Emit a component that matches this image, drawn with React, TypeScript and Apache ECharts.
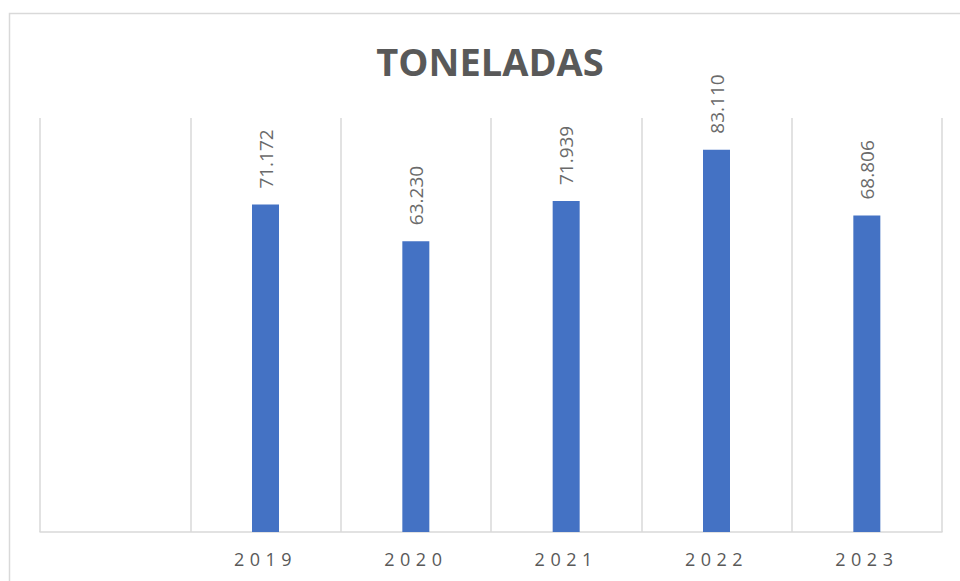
import React, { useEffect, useRef } from "react";
import * as echarts from "echarts";

const categories: string[] = ["", "2019", "2020", "2021", "2022", "2023"];
const toneladas: (number | null)[] = [null, 71172, 63230, 71939, 83110, 68806];
const titleText = "TONELADAS";
const yMax = 90000;

function fmt(v: number): string {
  const s = Math.round(v).toString();
  return s.replace(/\B(?=(\d{3})+(?!\d))/g, ".");
}

export default function App() {
  const ref = useRef<HTMLDivElement>(null);
  useEffect(() => {
    document.body.style.margin = "0";
    if (!ref.current) return;
    const chart = echarts.init(ref.current, null, { renderer: "svg" });
    const grey = "#595959";
    const line = "#d9d9d9";
    chart.setOption({
      animation: false,
      backgroundColor: "#ffffff",
      grid: { left: 40, right: 18, top: 118, bottom: 49, containLabel: false },
      graphic: [
        {
          type: "rect",
          shape: { x: 9.5, y: 13.5, width: 1000, height: 1000 },
          style: { fill: "none", stroke: line, lineWidth: 1.5 },
          silent: true,
          z: -1,
        },
        {
          type: "text",
          x: 490,
          y: 61,
          style: {
            text: titleText,
            fill: grey,
            font: "bold 38px 'Open Sans', sans-serif",
            textAlign: "center",
            textVerticalAlign: "middle",
          },
        },
      ],
      xAxis: {
        type: "category",
        data: categories,
        boundaryGap: true,
        axisLine: { show: true, lineStyle: { color: line, width: 1.5 } },
        axisTick: { show: false },
        splitLine: { show: true, lineStyle: { color: line, width: 1.5 } },
        axisLabel: {
          color: grey,
          fontFamily: "'Open Sans', sans-serif",
          fontSize: 18,
          margin: 18,
          interval: 0,
        },
      },
      yAxis: {
        type: "value",
        min: 0,
        max: yMax,
        show: false,
        splitLine: { show: false },
      },
      series: [
        {
          type: "bar",
          data: toneladas,
          barWidth: 27,
          itemStyle: { color: "#4472C4" },
          label: {
            show: true,
            position: "top",
            rotate: 90,
            align: "left",
            verticalAlign: "middle",
            distance: 16,
            color: "#6a6a6a",
            fontFamily: "'Open Sans', sans-serif",
            fontSize: 19,
            formatter: (p: any) => fmt(p.value),
          },
        },
      ],
    });
    const applySpacing = () => {
      if (!ref.current) return;
      const texts = ref.current.querySelectorAll("text");
      texts.forEach((t) => {
        const c = (t.textContent || "").trim();
        if (categories.includes(c) && c !== "") {
          (t as SVGTextElement).style.letterSpacing = "5.5px";
        }
      });
    };
    applySpacing();
    chart.on("finished", applySpacing);
    return () => {
      chart.dispose();
    };
  }, []);
  return <div ref={ref} style={{ width: 960, height: 581 }} />;
}
